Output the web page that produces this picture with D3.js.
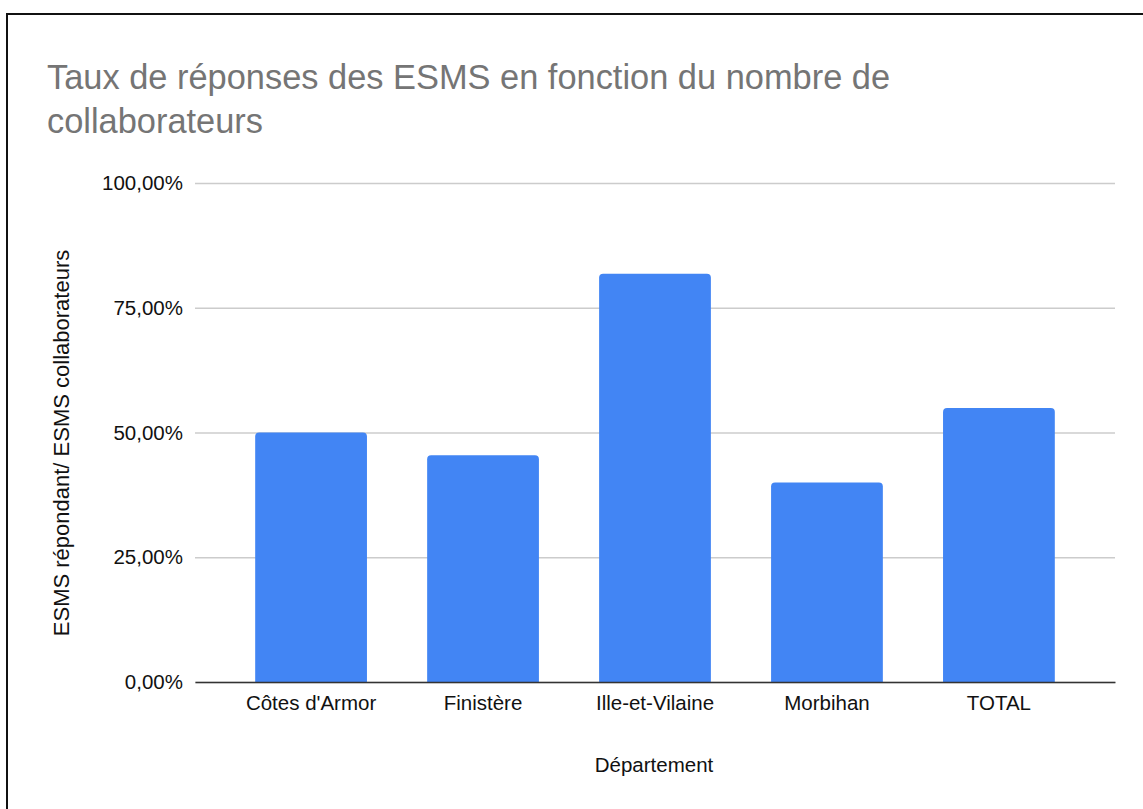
<html lang='fr'>
  <head>
    <meta charset='UTF-8' />
    <script src='https://d3js.org/d3.v7.min.js'></script>
    <style>
      html, body { margin: 0; background: #fff; overflow: hidden; }
      svg { display: block; }
      text { font-family: Arial, 'Liberation Sans', sans-serif; }
    </style>
    <title>Taux de réponses des ESMS</title>
  </head>
  <body>
  <div id='chart'></div>
  <script>
  // data
  const departements = ["Côtes d'Armor", "Finistère", "Ille-et-Vilaine", "Morbihan", "TOTAL"];
  const taux = [0.50, 0.4545, 0.8182, 0.40, 0.549];
  const yTicks = [0, 0.25, 0.5, 0.75, 1];

  const width = 1143;
  const height = 809;
  const margin = { top: 183, right: 28, bottom: 127, left: 195 };
  const innerWidth = width - margin.left - margin.right;
  const innerHeight = height - margin.top - margin.bottom;
  const font = "Arial, 'Liberation Sans', sans-serif";

  const svg = d3.select("#chart")
    .append("svg")
    .attr("width", width)
    .attr("height", height);

  // frame of the screenshot (top and left edges)
  svg.append("path")
    .attr("d", `M7,${height}V14H${width}`)
    .attr("fill", "none")
    .attr("stroke", "#111")
    .attr("stroke-width", 2);

  // title
  svg.append("text")
    .attr("x", 47).attr("y", 89)
    .attr("font-size", 34.4)
    .attr("fill", "#757575")
    .text("Taux de réponses des ESMS en fonction du nombre de");
  svg.append("text")
    .attr("x", 47).attr("y", 133)
    .attr("font-size", 34.4)
    .attr("fill", "#757575")
    .text("collaborateurs");

  const g = svg.append("g")
    .attr("transform", `translate(${margin.left},${margin.top})`);

  const x = d3.scaleBand()
    .domain(departements)
    .range([0, innerWidth])
    .paddingInner(0.35)
    .paddingOuter(0.35);

  const y = d3.scaleLinear()
    .domain([0, 1])
    .range([innerHeight, 0]);

  const fmt = (d) => d3.format(".2f")(d * 100).replace(".", ",") + "%";

  // gridlines + y labels
  const yAxis = g.append("g")
    .call(d3.axisLeft(y).tickValues(yTicks).tickSize(-innerWidth).tickFormat(fmt).tickPadding(12));
  yAxis.select(".domain").remove();
  yAxis.selectAll(".tick line").attr("stroke", "#cccccc").attr("stroke-width", 1.3);
  yAxis.selectAll(".tick text")
    .attr("font-size", 20.5)
    .attr("fill", "#111")
    .style("font-family", font);

  // bars with rounded top corners
  const r = 4;
  g.selectAll("path.bar")
    .data(departements.map((d, i) => ({ key: d, value: taux[i] })))
    .join("path")
    .attr("class", "bar")
    .attr("fill", "#4285f4")
    .attr("d", (d) => {
      const x0 = x(d.key), x1 = x0 + x.bandwidth();
      const y0 = y(d.value), yb = y(0);
      return `M${x0},${yb}V${y0 + r}Q${x0},${y0} ${x0 + r},${y0}H${x1 - r}Q${x1},${y0} ${x1},${y0 + r}V${yb}Z`;
    });

  // x axis
  const xAxis = g.append("g")
    .attr("transform", `translate(0,${innerHeight})`)
    .call(d3.axisBottom(x).tickSize(0).tickPadding(13));
  xAxis.select(".domain").attr("stroke", "#333").attr("stroke-width", 1.6);
  xAxis.selectAll(".tick text")
    .attr("font-size", 20.5)
    .attr("fill", "#111")
    .style("font-family", font);

  // axis titles
  svg.append("text")
    .attr("x", margin.left + innerWidth / 2 - 1)
    .attr("y", 772)
    .attr("text-anchor", "middle")
    .attr("font-size", 20.5)
    .attr("fill", "#111")
    .text("Département");

  svg.append("text")
    .attr("transform", `translate(69,443) rotate(-90)`)
    .attr("text-anchor", "middle")
    .attr("font-size", 22)
    .attr("fill", "#111")
    .text("ESMS répondant/ ESMS collaborateurs");
  </script>
  </body>
</html>
